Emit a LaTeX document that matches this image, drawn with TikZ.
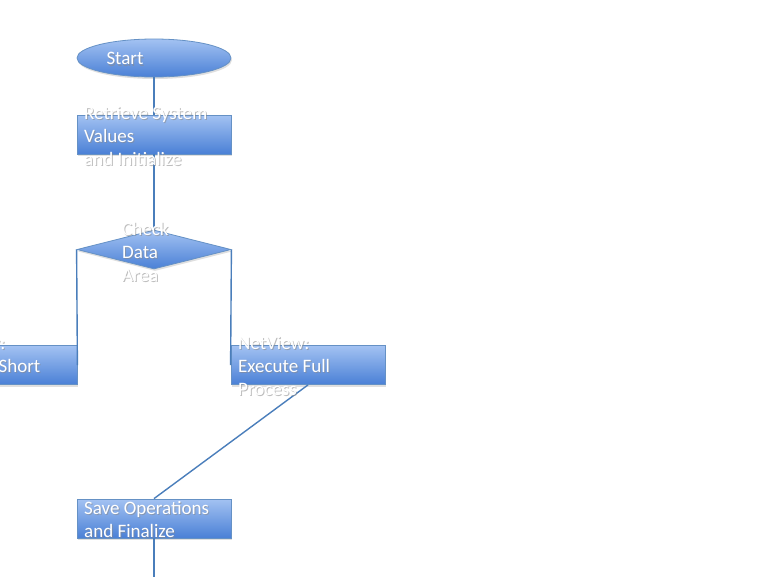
\documentclass[tikz,border=0pt]{standalone}
\usepackage{fontspec}
\setmainfont{Carlito}
\usetikzlibrary{shapes.geometric,shadows}
\definecolor{edgeblue}{HTML}{4A7EBB}
\definecolor{topblue}{HTML}{A3C2F2}
\definecolor{botblue}{HTML}{4A80D6}
\definecolor{shadowgray}{HTML}{8A8A8A}
\newcommand\sltext[4]{%
  \node[lblsh] at (#2+1,#3+1.5) {#4};
  \node[lbl] (#1) at (#2,#3) {#4};}
\begin{document}
\begin{tikzpicture}[x=1pt,y=-1pt,
  fillshade/.style={top color=topblue,bottom color=botblue,draw=edgeblue!85!white,line width=0.8pt,
    drop shadow={shadow xshift=1pt,shadow yshift=-2pt,opacity=0.25}},
  procbox/.style={fillshade,rectangle,minimum width=154pt,minimum height=39pt,inner sep=0pt},
  termin/.style={fillshade,ellipse,minimum width=154pt,minimum height=38pt,inner sep=0pt},
  decis/.style={fillshade,diamond,minimum width=154pt,minimum height=39pt,inner sep=0pt},
  conn/.style={draw=edgeblue,line width=1.4pt},
  lbl/.style={font=\fontsize{19}{23}\selectfont,text=white,align=left,inner sep=0pt,anchor=north west},
  lblsh/.style={lbl,text=shadowgray,opacity=0.55}]
\useasboundingbox (0,0) rectangle (768,576);
\clip (0,0) rectangle (768,576);
\fill[white] (0,0) rectangle (768,576);
% shapes
\node[termin] (start) at (154,58) {};
\node[procbox] (init) at (154,134.5) {};
\node[decis] (check) at (154,249.5) {};
\node[procbox] (short) at (0,365) {};
\node[procbox] (full) at (308,365) {};
\node[procbox] (save) at (154,518.5) {};
\coordinate (tail) at (154,580);
% connectors
\draw[conn] (start.south) -- (init.north);
\draw[conn] (init.south) -- (check.north);
\draw[conn] (check.west) -- (short.east);
\draw[conn] (check.east) -- (full.west);
\draw[conn] (full.south) -- (save.north);
\draw[conn] (save.south) -- (tail);
% texts
\node[lblsh,anchor=center] at (126,60) {Start};
\node[lbl,anchor=center] (tstart) at (125,58.5) {Start};
\sltext{tinit}{84}{106}{Retrieve System\\Values\\and Initialize}
\sltext{tcheck}{122}{222}{Check\\Data\\Area}
\sltext{tshort}{-66}{336}{NetView:\\Execute Short\\Process}
\sltext{tfull}{238}{336}{NetView:\\Execute Full\\Process}
\sltext{tsave}{84}{501}{Save Operations\\and Finalize}
\end{tikzpicture}
\end{document}
